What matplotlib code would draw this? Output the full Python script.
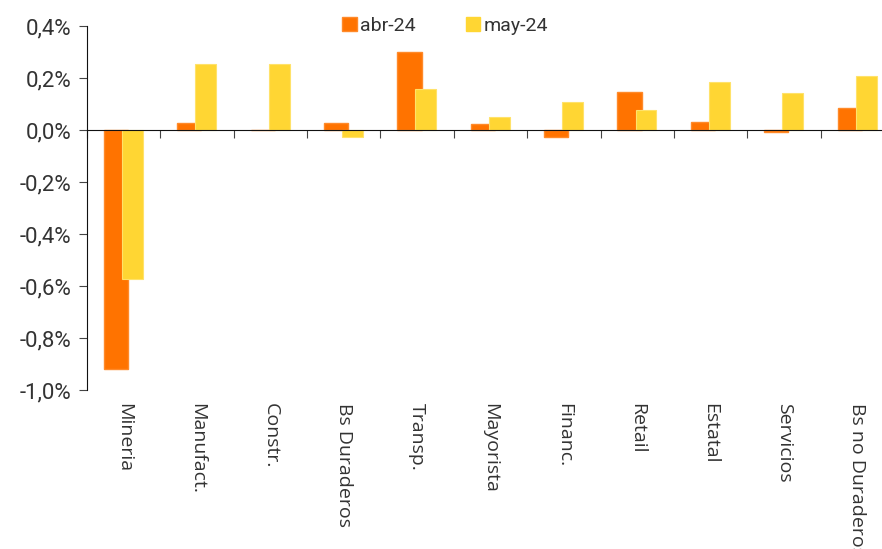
import numpy as np
import matplotlib.pyplot as plt
import matplotlib.transforms as mtransforms
from matplotlib.patches import Patch

categorias = ["Mineria", "Manufact.", "Constr.", "Bs Duraderos", "Transp.",
              "Mayorista", "Financ.", "Retail", "Estatal", "Servicios",
              "Bs no Duraderos"]
abr_24 = [-0.919, 0.027, 0.0, 0.027, 0.300, 0.024, -0.027, 0.145, 0.032, -0.009, 0.086]
may_24 = [-0.572, 0.255, 0.255, -0.026, 0.159, 0.049, 0.107, 0.078, 0.183, 0.142, 0.207]
y_ticks = [0.4, 0.2, 0.0, -0.2, -0.4, -0.6, -0.8, -1.0]

c_abr = "#FF7300"
c_may = "#FFD633"
txt = "#333333"

fig = plt.figure(figsize=(8.82, 5.49), dpi=100)
ax = fig.add_axes([87 / 882, 1 - 390 / 549, 807 / 882, 364 / 549])

x = np.arange(len(categorias))
# orange bar sits left, yellow one overlaps it slightly on the right
ax.bar(x - 0.105, abr_24, width=0.33, color=c_abr, edgecolor="#FF8A2A",
       linewidth=1.0, zorder=2)
ax.bar(x + 0.12, may_24, width=0.285, color=c_may, edgecolor="#FFE26A",
       linewidth=0.8, zorder=3)

ax.set_xlim(-0.5, len(categorias) - 0.5)
ax.set_ylim(-1.0, 0.4)

# axis at zero, ticks between categories
ax.spines["top"].set_visible(False)
ax.spines["right"].set_visible(False)
ax.spines["bottom"].set_position(("data", 0))
ax.spines["bottom"].set_zorder(4)
ax.spines["left"].set_color("#111111")
ax.spines["bottom"].set_color("#111111")
ax.set_xticks(np.arange(len(categorias) + 1) - 0.5)
ax.set_xticklabels([])
ax.tick_params(axis="x", direction="out", length=6, color="#444444")

ax.set_yticks(y_ticks)
ax.set_yticklabels([f"{v:.1f}%".replace(".", ",") for v in y_ticks],
                   fontsize=16, color=txt, fontfamily="Roboto")
ax.tick_params(axis="y", direction="out", length=6, color="#444444", pad=5)

trans = mtransforms.blended_transform_factory(ax.transData, ax.transAxes)
for i, name in enumerate(categorias):
    ax.text(i, -0.035, name, transform=trans, rotation=270, ha="center",
            va="top", fontsize=14, color=txt, fontfamily="Open Sans",
            clip_on=False)

handles = [Patch(facecolor=c_abr, edgecolor="#FF8A2A", label="abr-24"),
           Patch(facecolor=c_may, edgecolor=c_may, label="may-24")]
fig.legend(handles=handles, loc="center", bbox_to_anchor=(445 / 882, 1 - 26 / 549),
           ncol=2, frameon=False, handlelength=0.75, handleheight=0.75,
           handletextpad=0.15, columnspacing=2.6,
           prop={"family": "Roboto", "size": 14}, labelcolor=txt)

fig.savefig("out.png", dpi=100)
